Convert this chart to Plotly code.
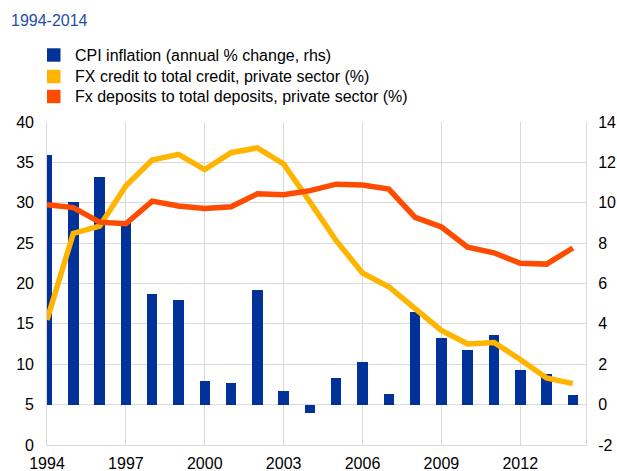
import plotly.graph_objects as go

years = list(range(1994, 2015))
cpi_inflation = [12.38, 10.03, 11.29, 9.05, 5.49, 5.19, 1.19, 1.09, 5.69, 0.66, -0.41,
                 1.31, 2.10, 0.53, 4.60, 3.31, 2.69, 3.44, 1.72, 1.50, 0.48]
fx_credit = [15.5, 26.2, 27.1, 32.1, 35.3, 36.0, 34.1, 36.2, 36.8, 34.8, 30.1,
             25.3, 21.3, 19.6, 16.9, 14.2, 12.5, 12.7, 10.6, 8.3, 7.6]
fx_deposits = [29.75, 29.4, 27.6, 27.4, 30.2, 29.6, 29.3, 29.5, 31.1, 31.0, 31.5,
               32.3, 32.2, 31.7, 28.2, 27.0, 24.5, 23.8, 22.5, 22.4, 24.4]
series_names = ["CPI inflation (annual % change, rhs)",
                "FX credit to total credit, private sector (%)",
                "Fx deposits to total deposits, private sector (%)"]
title_text = "1994-2014"
right_ticks = [-2, 0, 2, 4, 6, 8, 10, 12, 14]
right_tick_labels = ["-2", "0", "2", "4", "6", "8", "10", "12", "14"]

BLUE = "#003299"
YELLOW = "#FFB400"
ORANGE = "#FF4B00"
GRID = "#D9D9D9"
FONT = "Liberation Sans, Arial, sans-serif"

W, H = 617, 471
L, R, T, B = 47, 31, 122, 26
PW, PH = W - L - R, H - T - B


def px_x(p):
    return (p - L) / PW


def px_y(p):
    return (H - B - p) / PH


fig = go.Figure()

# Bars on primary y (displayed on the right), so lines on the overlay axis are drawn above
fig.add_trace(go.Bar(x=years, y=cpi_inflation, marker_color=BLUE, width=0.4,
                     marker_line_width=0, name=series_names[0], yaxis="y"))
fig.add_trace(go.Scatter(x=years, y=fx_credit, mode="lines", name=series_names[1],
                         line=dict(color=YELLOW, width=5.5), yaxis="y2"))
fig.add_trace(go.Scatter(x=years, y=fx_deposits, mode="lines", name=series_names[2],
                         line=dict(color=ORANGE, width=5.5), yaxis="y2"))

# Manual legend (squares + labels)
shapes = []
annotations = []
legend_centers = [55, 76.5, 96.5]
for name, col, cy in zip(series_names, [BLUE, YELLOW, ORANGE], legend_centers):
    shapes.append(dict(type="rect", xref="paper", yref="paper",
                       x0=px_x(47), x1=px_x(60.5), y0=px_y(cy + 6.7), y1=px_y(cy - 6.7),
                       fillcolor=col, line=dict(width=0), layer="above"))
    annotations.append(dict(text=name, xref="paper", yref="paper",
                            x=px_x(72.5), y=px_y(cy), xanchor="left", yanchor="middle",
                            showarrow=False, font=dict(family=FONT, size=16, color="#000000")))

annotations.append(dict(text=title_text, xref="paper", yref="paper",
                        x=px_x(9), y=px_y(21), xanchor="left", yanchor="middle",
                        showarrow=False, font=dict(family=FONT, size=16, color="#1F4EA6")))

fig.update_layout(
    width=W, height=H,
    margin=dict(l=L, r=R, t=T, b=B, autoexpand=False),
    paper_bgcolor="white", plot_bgcolor="white",
    font=dict(family=FONT, size=16, color="#000000"),
    showlegend=False,
    bargap=0,
    hovermode=False,
    shapes=shapes,
    annotations=annotations,
    xaxis=dict(range=[1994, 2014.5], tick0=1994, dtick=3, tickmode="linear",
               showgrid=True, gridcolor=GRID, gridwidth=1,
               showline=True, linecolor=GRID, linewidth=1,
               ticks="", zeroline=False, ticklabelstandoff=4, automargin=False),
    yaxis=dict(range=[-2, 14], tickmode="array", tickvals=right_ticks,
               ticktext=right_tick_labels, side="right",
               showgrid=True, gridcolor=GRID, gridwidth=1,
               showline=True, linecolor=GRID, linewidth=1, mirror=True,
               zeroline=False, ticks="", ticklabelstandoff=8, automargin=False),
    yaxis2=dict(range=[0, 40], dtick=5, tick0=0, side="left", overlaying="y",
                showgrid=False, zeroline=False, showline=False,
                ticks="", ticklabelstandoff=12, automargin=False),
)

fig.write_html("out.html",
               config={"displayModeBar": False, "staticPlot": True},
               post_script="document.body.style.margin='0px';document.body.style.overflow='hidden';")
